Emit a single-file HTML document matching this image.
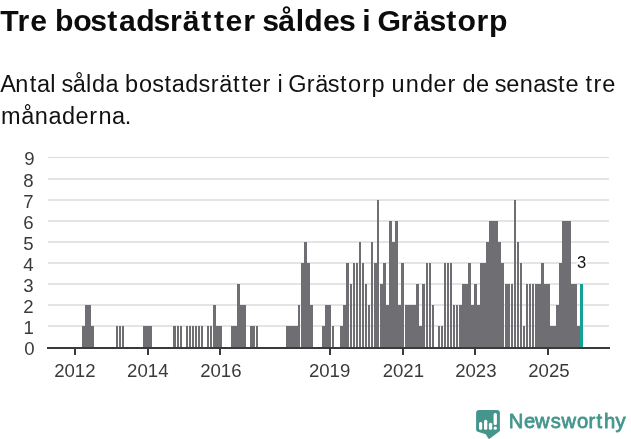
<!DOCTYPE html>
<html lang="sv">
<head>
<meta charset="utf-8">
<title>Tre bostadsrätter såldes i Grästorp</title>
<style>
html,body{margin:0;padding:0;background:#fff;}
body{width:631px;height:439px;overflow:hidden;}
svg{display:block;}
text{font-family:"Liberation Sans", sans-serif;}
</style>
</head>
<body>
<svg width="631" height="439" viewBox="0 0 631 439">
<rect x="0" y="0" width="631" height="439" fill="#ffffff"/>
<text x="0.3 17.6 30.3 46.9 54.9 73.2 90.3 107.2 119.0 136.2 153.5 169.9 182.8 201.3 213.9 225.5 243.3 255.3 262.2 278.2 295.7 304.3 323.0 338.9 354.1 362.3 370.6 377.4 400.4 413.3 429.4 446.3 457.5 476.4 488.9" y="30.7" font-weight="bold" font-size="30.2px" fill="#0c0c0c">Tre bostadsrätter såldes i Grästorp</text>
<text x="0.3 15.2 29.7 37.0 50.2 55.5 61.4 72.7 86.0 92.0 105.5 118.3 125.1 139.1 152.2 164.5 171.8 185.3 198.5 210.8 219.3 233.1 241.4 248.7 262.5 270.9 277.5 282.8 288.3 306.7 315.2 327.8 340.1 347.9 362.2 371.4 384.8 391.6 405.8 419.9 433.5 447.4 455.8 462.6 476.1 488.9 494.8 506.2 519.8 533.3 545.9 558.1 565.5 578.3 585.4 593.6 602.2" y="91.9" font-size="23.5px" fill="#111111">Antal sålda bostadsrätter i Grästorp under de senaste tre</text>
<text x="0.9 21.3 34.8 48.4 61.9 75.4 89.3 98.5 112.0 124.8" y="123.9" font-size="23.5px" fill="#111111">månaderna.</text>
<g fill="#d4d4d4">
<rect x="48" y="157.2" width="561" height="0.8"/>
<rect x="48" y="178.375" width="561" height="1.25"/>
<rect x="48" y="199.375" width="561" height="1.25"/>
<rect x="48" y="220.375" width="561" height="1.25"/>
<rect x="48" y="241.375" width="561" height="1.25"/>
<rect x="48" y="262.375" width="561" height="1.25"/>
<rect x="48" y="283.375" width="561" height="1.25"/>
<rect x="48" y="304.375" width="561" height="1.25"/>
<rect x="48" y="325.375" width="561" height="1.25"/>
</g>
<g font-size="18.6px" fill="#3a3a3a">
<text x="24.3" y="165">9</text>
<text x="23.2" y="187">8</text>
<text x="23.2" y="208">7</text>
<text x="23.2" y="229">6</text>
<text x="23.2" y="250">5</text>
<text x="23.2" y="271">4</text>
<text x="23.2" y="292">3</text>
<text x="23.2" y="313">2</text>
<text x="23.6" y="334">1</text>
<text x="24.3" y="355">0</text>
</g>
<g fill="#6e6e73" shape-rendering="crispEdges">
<rect x="82" y="326" width="3" height="21"/>
<rect x="85" y="305" width="3" height="42"/>
<rect x="88" y="305" width="3" height="42"/>
<rect x="91" y="326" width="3" height="21"/>
<rect x="116" y="326" width="2" height="21"/>
<rect x="119" y="326" width="2" height="21"/>
<rect x="122" y="326" width="2" height="21"/>
<rect x="143" y="326" width="3" height="21"/>
<rect x="146" y="326" width="3" height="21"/>
<rect x="149" y="326" width="3" height="21"/>
<rect x="173" y="326" width="3" height="21"/>
<rect x="177" y="326" width="2" height="21"/>
<rect x="180" y="326" width="2" height="21"/>
<rect x="186" y="326" width="2" height="21"/>
<rect x="189" y="326" width="2" height="21"/>
<rect x="192" y="326" width="2" height="21"/>
<rect x="195" y="326" width="2" height="21"/>
<rect x="198" y="326" width="2" height="21"/>
<rect x="201" y="326" width="2" height="21"/>
<rect x="207" y="326" width="2" height="21"/>
<rect x="210" y="326" width="2" height="21"/>
<rect x="213" y="305" width="3" height="42"/>
<rect x="216" y="326" width="3" height="21"/>
<rect x="219" y="326" width="3" height="21"/>
<rect x="231" y="326" width="3" height="21"/>
<rect x="234" y="326" width="3" height="21"/>
<rect x="237" y="284" width="3" height="63"/>
<rect x="240" y="305" width="3" height="42"/>
<rect x="243" y="305" width="3" height="42"/>
<rect x="250" y="326" width="3" height="21"/>
<rect x="253" y="326" width="2" height="21"/>
<rect x="256" y="326" width="2" height="21"/>
<rect x="286" y="326" width="3" height="21"/>
<rect x="289" y="326" width="3" height="21"/>
<rect x="292" y="326" width="3" height="21"/>
<rect x="295" y="326" width="3" height="21"/>
<rect x="298" y="305" width="2" height="42"/>
<rect x="301" y="263" width="3" height="84"/>
<rect x="304" y="242" width="3" height="105"/>
<rect x="307" y="263" width="3" height="84"/>
<rect x="310" y="305" width="3" height="42"/>
<rect x="322" y="326" width="3" height="21"/>
<rect x="325" y="305" width="3" height="42"/>
<rect x="328" y="305" width="3" height="42"/>
<rect x="332" y="326" width="2" height="21"/>
<rect x="340" y="326" width="3" height="21"/>
<rect x="343" y="305" width="3" height="42"/>
<rect x="346" y="263" width="3" height="84"/>
<rect x="350" y="284" width="2" height="63"/>
<rect x="353" y="263" width="2" height="84"/>
<rect x="356" y="263" width="2" height="84"/>
<rect x="359" y="242" width="2" height="105"/>
<rect x="362" y="263" width="2" height="84"/>
<rect x="365" y="284" width="2" height="63"/>
<rect x="368" y="305" width="2" height="42"/>
<rect x="371" y="242" width="2" height="105"/>
<rect x="374" y="263" width="3" height="84"/>
<rect x="377" y="200" width="2" height="147"/>
<rect x="380" y="284" width="3" height="63"/>
<rect x="383" y="263" width="3" height="84"/>
<rect x="386" y="305" width="3" height="42"/>
<rect x="389" y="221" width="3" height="126"/>
<rect x="392" y="242" width="3" height="105"/>
<rect x="395" y="221" width="3" height="126"/>
<rect x="398" y="305" width="3" height="42"/>
<rect x="401" y="263" width="3" height="84"/>
<rect x="405" y="305" width="11" height="42"/>
<rect x="416" y="284" width="3" height="63"/>
<rect x="419" y="326" width="3" height="21"/>
<rect x="422" y="284" width="3" height="63"/>
<rect x="426" y="263" width="2" height="84"/>
<rect x="429" y="263" width="2" height="84"/>
<rect x="432" y="305" width="2" height="42"/>
<rect x="438" y="326" width="2" height="21"/>
<rect x="441" y="326" width="2" height="21"/>
<rect x="444" y="263" width="2" height="84"/>
<rect x="447" y="263" width="2" height="84"/>
<rect x="450" y="263" width="2" height="84"/>
<rect x="453" y="305" width="2" height="42"/>
<rect x="456" y="305" width="2" height="42"/>
<rect x="459" y="305" width="3" height="42"/>
<rect x="462" y="284" width="6" height="63"/>
<rect x="468" y="263" width="3" height="84"/>
<rect x="471" y="305" width="3" height="42"/>
<rect x="474" y="284" width="3" height="63"/>
<rect x="477" y="305" width="3" height="42"/>
<rect x="480" y="263" width="6" height="84"/>
<rect x="486" y="242" width="3" height="105"/>
<rect x="489" y="221" width="9" height="126"/>
<rect x="498" y="242" width="3" height="105"/>
<rect x="501" y="263" width="3" height="84"/>
<rect x="505" y="284" width="5" height="63"/>
<rect x="511" y="284" width="2" height="63"/>
<rect x="514" y="200" width="2" height="147"/>
<rect x="517" y="242" width="2" height="105"/>
<rect x="520" y="263" width="2" height="84"/>
<rect x="523" y="326" width="2" height="21"/>
<rect x="526" y="284" width="2" height="63"/>
<rect x="529" y="284" width="2" height="63"/>
<rect x="532" y="284" width="2" height="63"/>
<rect x="535" y="284" width="6" height="63"/>
<rect x="541" y="263" width="3" height="84"/>
<rect x="544" y="284" width="6" height="63"/>
<rect x="550" y="326" width="6" height="21"/>
<rect x="556" y="305" width="3" height="42"/>
<rect x="559" y="263" width="3" height="84"/>
<rect x="562" y="221" width="9" height="126"/>
<rect x="571" y="284" width="6" height="63"/>
<rect x="577" y="326" width="3" height="21"/>
</g>
<rect x="580" y="284" width="3" height="63" fill="#14a094" shape-rendering="crispEdges"/>
<g fill="#3a3a3a" shape-rendering="crispEdges">
<rect x="47" y="347" width="563" height="2"/>
<rect x="74" y="349" width="2" height="6"/>
<rect x="147" y="349" width="2" height="6"/>
<rect x="219" y="349" width="2" height="6"/>
<rect x="329" y="349" width="2" height="6"/>
<rect x="402" y="349" width="2" height="6"/>
<rect x="474" y="349" width="2" height="6"/>
<rect x="547" y="349" width="2" height="6"/>
</g>
<g font-size="18.6px" fill="#3a3a3a" text-anchor="middle">
<text x="74.85" y="377">2012</text>
<text x="147.80" y="377">2014</text>
<text x="220.85" y="377">2016</text>
<text x="329.60" y="377">2019</text>
<text x="403.35" y="377">2021</text>
<text x="475.85" y="377">2023</text>
<text x="548.95" y="377">2025</text>
</g>
<text x="581.5" y="267.8" font-size="16.6px" fill="#111111" text-anchor="middle" stroke="#ffffff" stroke-width="4" stroke-linejoin="round" paint-order="stroke">3</text>
<g fill="#44968d">
<path d="M479.1 410.1H496.9A3 3 0 0 1 499.9 413.1V430.9L489.6 438.7Q488.9 439.2 488.4 438.4L486.2 434.9Q485.8 434.3 485 434L477.8 431.7Q476.1 431.1 476.1 429.4V413.1A3 3 0 0 1 479.1 410.1Z"/>
</g>
<g fill="#ffffff">
<rect x="479.0" y="422.1" width="3.2" height="7.6" rx="1.5"/>
<rect x="484.0" y="419.8" width="3.3" height="9.9" rx="1.5"/>
<rect x="488.9" y="422.8" width="3.3" height="6.9" rx="1.5"/>
<rect x="493.6" y="412.9" width="3.3" height="12.2" rx="1.5"/>
<rect x="493.6" y="426.6" width="3.3" height="3.1" rx="1.5"/>
</g>
<text x="508.8 524.0 535.1 550.7 561.4 577.1 588.6 596.5 603.9 615.6" y="427.7" font-size="20.2px" fill="#44968d" stroke="#44968d" stroke-width="0.8" stroke-linejoin="round">Newsworthy</text>
</svg>
</body>
</html>
